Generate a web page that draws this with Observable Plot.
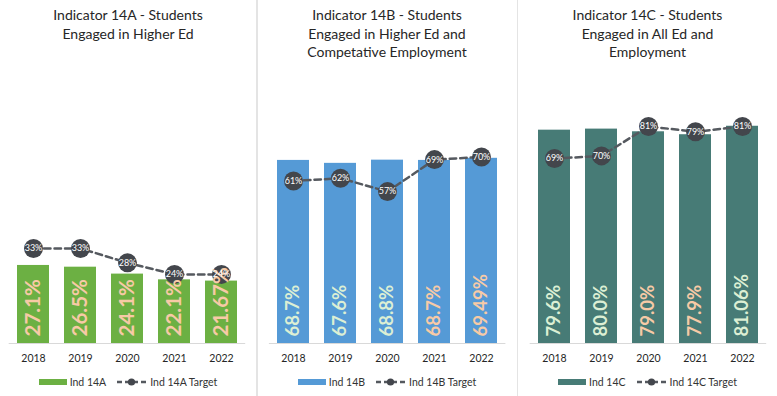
<!DOCTYPE html>
<html><head><meta charset="utf-8">
<script src="https://cdn.jsdelivr.net/npm/d3@7"></script>
<script src="https://cdn.jsdelivr.net/npm/@observablehq/plot@0.6"></script>
<style>
html,body{margin:0;padding:0;background:#fff;}
#wrap{position:relative;width:777px;height:396px;overflow:hidden;font-family:Lato,"Open Sans",sans-serif;}
.divider{position:absolute;top:0;width:1.5px;height:396px;background:#e4e4e4;}
.panel{position:absolute;top:0;height:396px;}
.title{position:absolute;left:0;right:0;top:6px;text-align:center;font-size:14px;line-height:18.5px;color:#262626;}
.chart{position:absolute;left:0;top:40px;}
.legend{position:absolute;left:0;right:0;top:375px;height:14px;display:flex;justify-content:center;align-items:center;font-size:10.5px;color:#333;white-space:nowrap;}
.sw{display:inline-block;width:28px;height:6px;margin-right:3px;}
.mk{margin-left:11px;margin-right:4px;}
</style></head>
<body><div id="wrap"></div>
<script>
// ---- data ----
const years = ["2018", "2019", "2020", "2021", "2022"];

const ind14A = [27.1, 26.5, 24.1, 22.1, 21.67];
const ind14ALabels = ["27.1%", "26.5%", "24.1%", "22.1%", "21.67%"];
const target14A = [33, 33, 28, 24, 24];

const ind14B = [68.7, 67.6, 68.8, 68.7, 69.49];
const ind14BLabels = ["68.7%", "67.6%", "68.8%", "68.7%", "69.49%"];
const target14B = [61, 62, 57, 69, 70];

const ind14C = [79.6, 80.0, 79.0, 77.9, 81.06];
const ind14CLabels = ["79.6%", "80.0%", "79.0%", "77.9%", "81.06%"];
const target14C = [69, 70, 81, 79, 81];

const titleA = ["Indicator 14A - Students", "Engaged in Higher Ed"];
const titleB = ["Indicator 14B - Students", "Engaged in Higher Ed and", "Competative Employment"];
const titleC = ["Indicator 14C - Students", "Engaged in All Ed and", "Employment"];

const seriesNames = [["Ind 14A", "Ind 14A Target"], ["Ind 14B", "Ind 14B Target"], ["Ind 14C", "Ind 14C Target"]];

// ---- styling ----
const metColor = "#dcefd4";
const missColor = "#f7caa6";
const dotColor = "#43464c";
const lineColor = "#55595f";

const panels = [
  {values: ind14A, labels: ind14ALabels, targets: target14A, title: titleA, names: seriesNames[0],
   left: 0, width: 256, mL: 8.7, mR: 10.8, mT: 15, color: "#6cb043", fs: 20.5},
  {values: ind14B, labels: ind14BLabels, targets: target14B, title: titleB, names: seriesNames[1],
   left: 258, width: 258, mL: 10.9, mR: 10.6, mT: 36.5, color: "#559ad6", fs: 18.5},
  {values: ind14C, labels: ind14CLabels, targets: target14C, title: titleC, names: seriesNames[2],
   left: 518, width: 259, mL: 11.7, mR: 10.8, mT: 35, color: "#477b76", fs: 18.5}
];

const wrap = document.getElementById("wrap");
[256, 516.5].forEach(x => {
  const d = document.createElement("div");
  d.className = "divider";
  d.style.left = x + "px";
  wrap.appendChild(d);
});

panels.forEach(p => {
  const rows = years.map((year, i) => ({
    year, value: p.values[i], label: p.labels[i], target: p.targets[i],
    met: p.values[i] >= p.targets[i]
  }));

  const panel = document.createElement("div");
  panel.className = "panel";
  panel.style.left = p.left + "px";
  panel.style.width = p.width + "px";

  const title = document.createElement("div");
  title.className = "title";
  title.innerHTML = p.title.join("<br>");
  panel.appendChild(title);

  const chart = Plot.plot({
    width: p.width,
    height: 330,
    marginLeft: p.mL,
    marginRight: p.mR,
    marginTop: p.mT,
    marginBottom: 27,
    style: {fontFamily: "Lato, 'Open Sans', sans-serif", fontSize: "10.5px", color: "#262626", background: "transparent", overflow: "visible"},
    x: {domain: years, paddingInner: 0.32, paddingOuter: 0.16, tickSize: 0, tickPadding: 11, label: null},
    y: {domain: [0, 100], axis: null},
    marks: [
      Plot.barY(rows, {x: "year", y: "value", fill: p.color}),
      Plot.ruleY([0], {stroke: "#d9d9d9", strokeWidth: 1}),
      Plot.line(rows, {x: "year", y: "target", stroke: lineColor, strokeWidth: 2.5, strokeDasharray: "6.5,4"}),
      Plot.dot(rows, {x: "year", y: "target", r: 9.5, fill: dotColor, stroke: "none"}),
      Plot.text(rows, {x: "year", y: () => 0, text: "label", rotate: -90, textAnchor: "start", dy: -7,
        fontSize: p.fs, fontWeight: "bold", fill: d => d.met ? metColor : missColor}),
      Plot.text(rows, {x: "year", y: "target", text: d => d.target + "%", fill: "white", fontSize: 9, letterSpacing: "-0.2px"})
    ]
  });
  chart.classList.add("chart");
  chart.style.position = "absolute";
  chart.style.top = "40px";
  chart.style.left = "0px";
  panel.appendChild(chart);

  const legend = document.createElement("div");
  legend.className = "legend";
  legend.innerHTML =
    `<span class="sw" style="background:${p.color}"></span><span>${p.names[0]}</span>` +
    `<svg class="mk" width="29" height="8" viewBox="0 0 29 8"><line x1="0" x2="29" y1="4" y2="4" stroke="${lineColor}" stroke-width="2.5" stroke-dasharray="5,3"/><circle cx="14.5" cy="4" r="3.6" fill="${dotColor}"/></svg>` +
    `<span>${p.names[1]}</span>`;
  panel.appendChild(legend);

  wrap.appendChild(panel);
});
</script>
</body></html>
